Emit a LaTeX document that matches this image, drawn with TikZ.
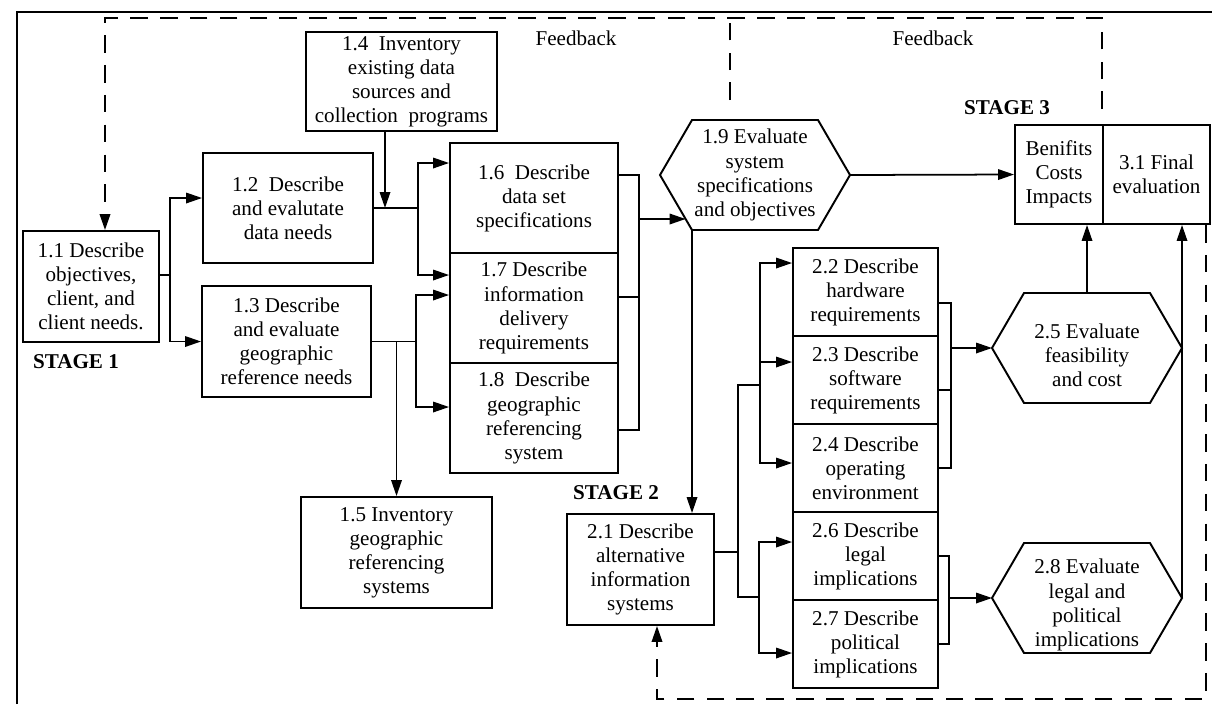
\documentclass[tikz,border=0pt]{standalone}
\usepackage{fontspec}
\setmainfont{Liberation Serif}
\usetikzlibrary{arrows.meta, calc}
\tikzset{
  box/.style={draw=black, line width=1.1pt, align=center, inner sep=1pt,
              font=\fontsize{12}{13.7}\selectfont},
  hexT/.style={align=center, inner sep=0pt,
               font=\fontsize{12}{13.7}\selectfont},
  hexline/.style={draw=black, line width=1.1pt, line join=miter},
  link/.style={draw=black, line width=1pt},
  arr/.style={link, -{Triangle[length=0.32cm, width=0.21cm]}},
  fback/.style={draw=black, line width=1.1pt, dash pattern=on 10pt off 7pt},
  stageL/.style={font=\fontsize{12}{13.7}\selectfont\bfseries},
  fbL/.style={font=\fontsize{12}{13.7}\selectfont},
  pageEdge/.style={draw=black, line width=1.2pt},
}
\begin{document}
\begin{tikzpicture}[x=0.02cm, y=-0.02cm]
  \useasboundingbox (0,0) rectangle (1212,704);
  %% Page edge
  \draw[pageEdge] (17,704) -- (17,12) -- (1212,12);
  %% Stage 1
  \node[box, minimum width=2.72cm, minimum height=2.22cm] (b11) at (91,286.5)
    {1.1 Describe\\objectives,\\client, and\\client needs.};
  \node[box, minimum width=3.4cm, minimum height=2.2cm] (b12) at (288,208)
    {1.2\ \ Describe\\and evalutate\\data needs};
  \node[box, minimum width=3.38cm, minimum height=2.22cm] (b13) at (286.5,341.5)
    {1.3 Describe\\and evaluate\\geographic\\reference needs};
  \node[box, minimum width=3.82cm, minimum height=1.98cm] (b14) at (401.5,81.5)
    {1.4\ \ Inventory\\existing data\\sources and\\collection\ \ programs};
  \node[box, minimum width=3.82cm, minimum height=2.22cm] (b15) at (396.5,552.5)
    {1.5 Inventory\\geographic\\referencing\\systems};
  \node[box, minimum width=3.36cm, minimum height=2.2cm] (b16) at (534,198)
    {1.6\ \ Describe\\data set\\specifications};
  \node[box, minimum width=3.36cm, minimum height=2.2cm] (b17) at (534,308)
    {1.7 Describe\\information\\delivery\\requirements};
  \node[box, minimum width=3.36cm, minimum height=2.2cm] (b18) at (534,418)
    {1.8\ \ Describe\\geographic\\referencing\\system};
  %% Stage 2
  \node[box, minimum width=2.94cm, minimum height=2.22cm] (b21) at (640.5,569.5)
    {2.1 Describe\\alternative\\information\\systems};
  \node[box, minimum width=2.9cm, minimum height=1.76cm] (b22) at (865.5,292)
    {2.2 Describe\\hardware\\requirements};
  \node[box, minimum width=2.9cm, minimum height=1.76cm] (b23) at (865.5,380)
    {2.3 Describe\\software\\requirements};
  \node[box, minimum width=2.9cm, minimum height=1.76cm] (b24) at (865.5,468)
    {2.4 Describe\\operating\\environment};
  \node[box, minimum width=2.9cm, minimum height=1.76cm] (b26) at (865.5,556)
    {2.6 Describe\\legal\\implications};
  \node[box, minimum width=2.9cm, minimum height=1.76cm] (b27) at (865.5,644)
    {2.7 Describe\\political\\implications};
  %% Stage 3
  \node[box, minimum width=1.76cm, minimum height=1.98cm] (bci) at (1059,174.5)
    {Benifits\\Costs\\Impacts};
  \node[box, minimum width=2.14cm, minimum height=1.98cm] (b31) at (1156.5,174.5)
    {3.1 Final\\evaluation};
  %% Hexagons
  \foreach \n/\cx/\cy in {h19/755/175, h25/1087/348, h28/1087/598}{
    \draw[hexline] (\cx-95,\cy) coordinate (\n-l)
      -- (\cx-63,\cy-55) coordinate (\n-tl) -- (\cx+63,\cy-55) coordinate (\n-tr)
      -- (\cx+95,\cy) coordinate (\n-r)
      -- (\cx+63,\cy+55) coordinate (\n-br) -- (\cx-63,\cy+55) coordinate (\n-bl)
      -- cycle;
    \coordinate (\n-t) at (\cx,\cy-55);
  }
  \node[hexT] (h19) at (755,175) {1.9 Evaluate\\system\\specifications\\and objectives};
  \node[hexT] (h25) at (1087,355) {2.5 Evaluate\\feasibility\\and cost};
  \node[hexT] (h28) at (1087,605) {2.8 Evaluate\\legal and\\political\\implications};
  %% Labels
  \node[fbL] (fb1) at (576,38) {Feedback};
  \node[fbL] (fb2) at (933,38) {Feedback};
  \node[stageL] (s1) at (76,362) {STAGE 1};
  \node[stageL] (s2) at (616,493) {STAGE 2};
  \node[stageL] (s3) at (1007,108) {STAGE 3};
  %% 1.1 to 1.2 and 1.3
  \draw[link] ([yshift=0.23cm]b11.east) -- ++(10,0) coordinate (j1);
  \draw[arr] (j1) |- ([yshift=0.2cm]b12.west);
  \draw[arr] (j1) |- (b13.west);
  %% 1.2 and 1.4 to 1.6, 1.7
  \draw[link] (b12.east) -- ++(44,0) coordinate (j2);
  \draw[arr] (j2) |- ([yshift=0.7cm]b16.west);
  \draw[arr] (j2) |- ([yshift=0.66cm]b17.west);
  \draw[arr] ([xshift=-0.33cm]b14.south) -- ([xshift=-0.33cm]b14.south |- b12.east);
  %% 1.3 to 1.7, 1.8 and 1.5
  \draw[link] (b13.east) -- ++(44,0) coordinate (j3);
  \draw[arr] (j3) |- ([yshift=0.26cm]b17.west);
  \draw[arr] (j3) |- ([yshift=0.22cm]b18.west);
  \draw[arr] (b15.north |- b13.east) -- (b15.north);
  %% 1.6--1.8 to 1.9
  \coordinate (e19) at ($(h19-l)!0.8!(h19-bl)$);
  \draw[link] ([yshift=0.46cm]b16.east) -- ++(20,0) coordinate (j4)
    |- ([yshift=-0.24cm]b18.east);
  \draw[link] ([yshift=0.22cm]b17.east) -- ++(20,0);
  \draw[arr] (j4 |- e19) -- (e19);
  %% 1.9 to stage 3 and 2.1
  \draw[arr] (h19-r) -- (bci.west);
  \draw[arr] (h19-bl) -- (h19-bl |- b21.north);
  %% 2.1 to 2.2--2.7
  \draw[link] ([yshift=0.35cm]b21.east) -- ++(23,0) coordinate (j5);
  \draw[link] (j5) -- ++(0,-167) -- ++(22,0) coordinate (j6);
  \draw[link] (j5) -- ++(0,45) -- ++(21,0) coordinate (j7);
  \draw[arr] (j6) |- ([yshift=0.58cm]b22.west);
  \draw[arr] (j6) |- ([yshift=0.36cm]b23.west);
  \draw[arr] (j6) |- ([yshift=0.1cm]b24.west);
  \draw[arr] (j7) |- ([yshift=0.28cm]b26.west);
  \draw[arr] (j7) |- ([yshift=-0.18cm]b27.west);
  %% 2.2--2.4 to 2.5, 2.6--2.7 to 2.8
  \draw[link] ([yshift=-0.22cm]b22.east) -- ++(12,0) coordinate (j8) |- (b24.east);
  \draw[link] ([yshift=-0.2cm]b23.east) -- ++(12,0);
  \draw[arr] (j8 |- h25-l) -- (h25-l);
  \draw[link] (b26.east) -- ++(10,0) coordinate (j9) |- (b27.east);
  \draw[arr] (j9 |- h28-l) -- (h28-l);
  %% 2.5, 2.8 to stage 3
  \draw[arr] (h25-t) -- (h25-t |- bci.south);
  \draw[arr] (h28-r) -- (h28-r |- b31.south);
  %% Feedback
  \draw[fback, -{Triangle[length=0.32cm, width=0.21cm]}]
    ([yshift=0.3cm]b31.north west) -- ++(0,-91) coordinate (j10)
    -| ([xshift=0.28cm]b11.north);
  \draw[fback] ([xshift=-0.5cm,yshift=0.4cm]h19-t) -- ([xshift=-0.5cm]h19-t |- j10);
  \draw[fback, -{Triangle[length=0.32cm, width=0.21cm]}]
    ([xshift=-0.1cm]b31.south east) -- ++(0,474) -| ([xshift=0.33cm]b21.south);
\end{tikzpicture}
\end{document}
